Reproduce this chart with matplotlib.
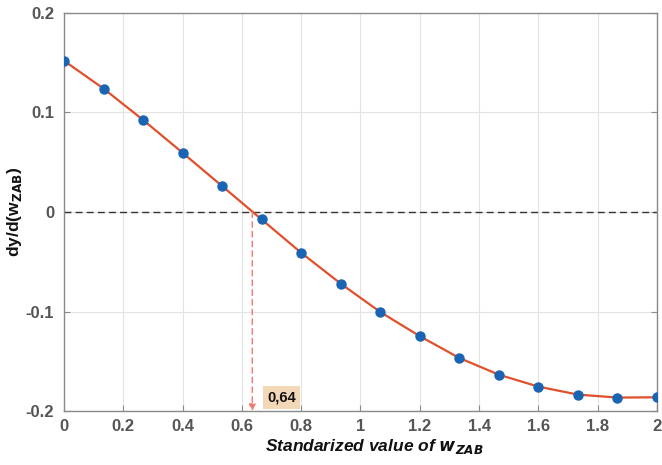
import matplotlib
matplotlib.use("Agg")
import matplotlib.pyplot as plt
import numpy as np

plt.rcParams['font.family'] = ['Liberation Sans', 'DejaVu Sans']

x_vals = [0.0, 0.1333, 0.2667, 0.4, 0.5333, 0.6667, 0.8, 0.9333, 1.0667, 1.2,
          1.3333, 1.4667, 1.6, 1.7333, 1.8667, 2.0]
y_vals = [0.152, 0.124, 0.0925, 0.0595, 0.026, -0.0075, -0.041, -0.072, -0.1005,
          -0.1248, -0.1467, -0.1635, -0.1755, -0.1835, -0.1865, -0.1862]
root_x = 0.635
root_label = "0,64"
xticks = [0, 0.2, 0.4, 0.6, 0.8, 1, 1.2, 1.4, 1.6, 1.8, 2]
xticklabels = ["0", "0.2", "0.4", "0.6", "0.8", "1", "1.2", "1.4", "1.6", "1.8", "2"]
yticks = [-0.2, -0.1, 0, 0.1, 0.2]
yticklabels = ["-0.2", "-0.1", "0", "0.1", "0.2"]

fig = plt.figure(figsize=(6.62, 4.65), dpi=100)
ax = fig.add_axes([0.0967, 0.1161, 0.8957, 0.856])

ax.set_xlim(0, 2)
ax.set_ylim(-0.2, 0.2)
ax.set_xticks(xticks)
ax.set_xticklabels(xticklabels)
ax.set_yticks(yticks)
ax.set_yticklabels(yticklabels)
ax.grid(True, color='#e3e3e3', linewidth=0.8)
ax.set_axisbelow(True)

ax.axhline(0, color='#333333', linestyle=(0, (5, 3)), linewidth=1.0, zorder=2)

ax.plot(x_vals, y_vals, color='#E0502A', linewidth=1.6, zorder=3)
ax.plot(x_vals, y_vals, linestyle='none', marker='o', markersize=6.5,
        color='#1A64B4', zorder=4)

ax.annotate('', xy=(root_x, -0.2), xytext=(root_x, 0),
            arrowprops=dict(arrowstyle='-|>', color='#F07A70', linestyle=(0, (4, 3)),
                            linewidth=1.0, mutation_scale=10, shrinkA=0, shrinkB=0),
            zorder=3)
ax.text(0.685, -0.1865, root_label, fontsize=10.5, fontweight='bold', color='#111111',
        ha='left', va='center',
        bbox=dict(boxstyle='square,pad=0.3', facecolor='#F2D8B6', edgecolor='none'),
        zorder=5)

for sp in ax.spines.values():
    sp.set_color('#8a8a8a')
    sp.set_linewidth(1.0)
ax.tick_params(direction='in', length=4, colors='#8a8a8a', labelcolor='#555555',
               labelsize=12, top=False, right=True)
ax.tick_params(axis='y', pad=7)
ax.tick_params(axis='x', pad=6)
for lab in ax.get_xticklabels() + ax.get_yticklabels():
    lab.set_fontweight('bold')

ax.set_xlabel(r'Standarized value of $\mathbfit{w}_{\mathbfit{ZAB}}$', fontsize=12.5,
              fontweight='bold', fontstyle='italic', color='#111111')
ax.set_ylabel(r'dy/d(w$_{\mathbf{ZAB}}$)', fontsize=12.5, fontweight='bold',
              color='#111111')
ax.xaxis.set_label_coords(0.523, -0.065)
ax.yaxis.set_label_coords(-0.068, 0.5)

fig.savefig('out.png', dpi=100)
